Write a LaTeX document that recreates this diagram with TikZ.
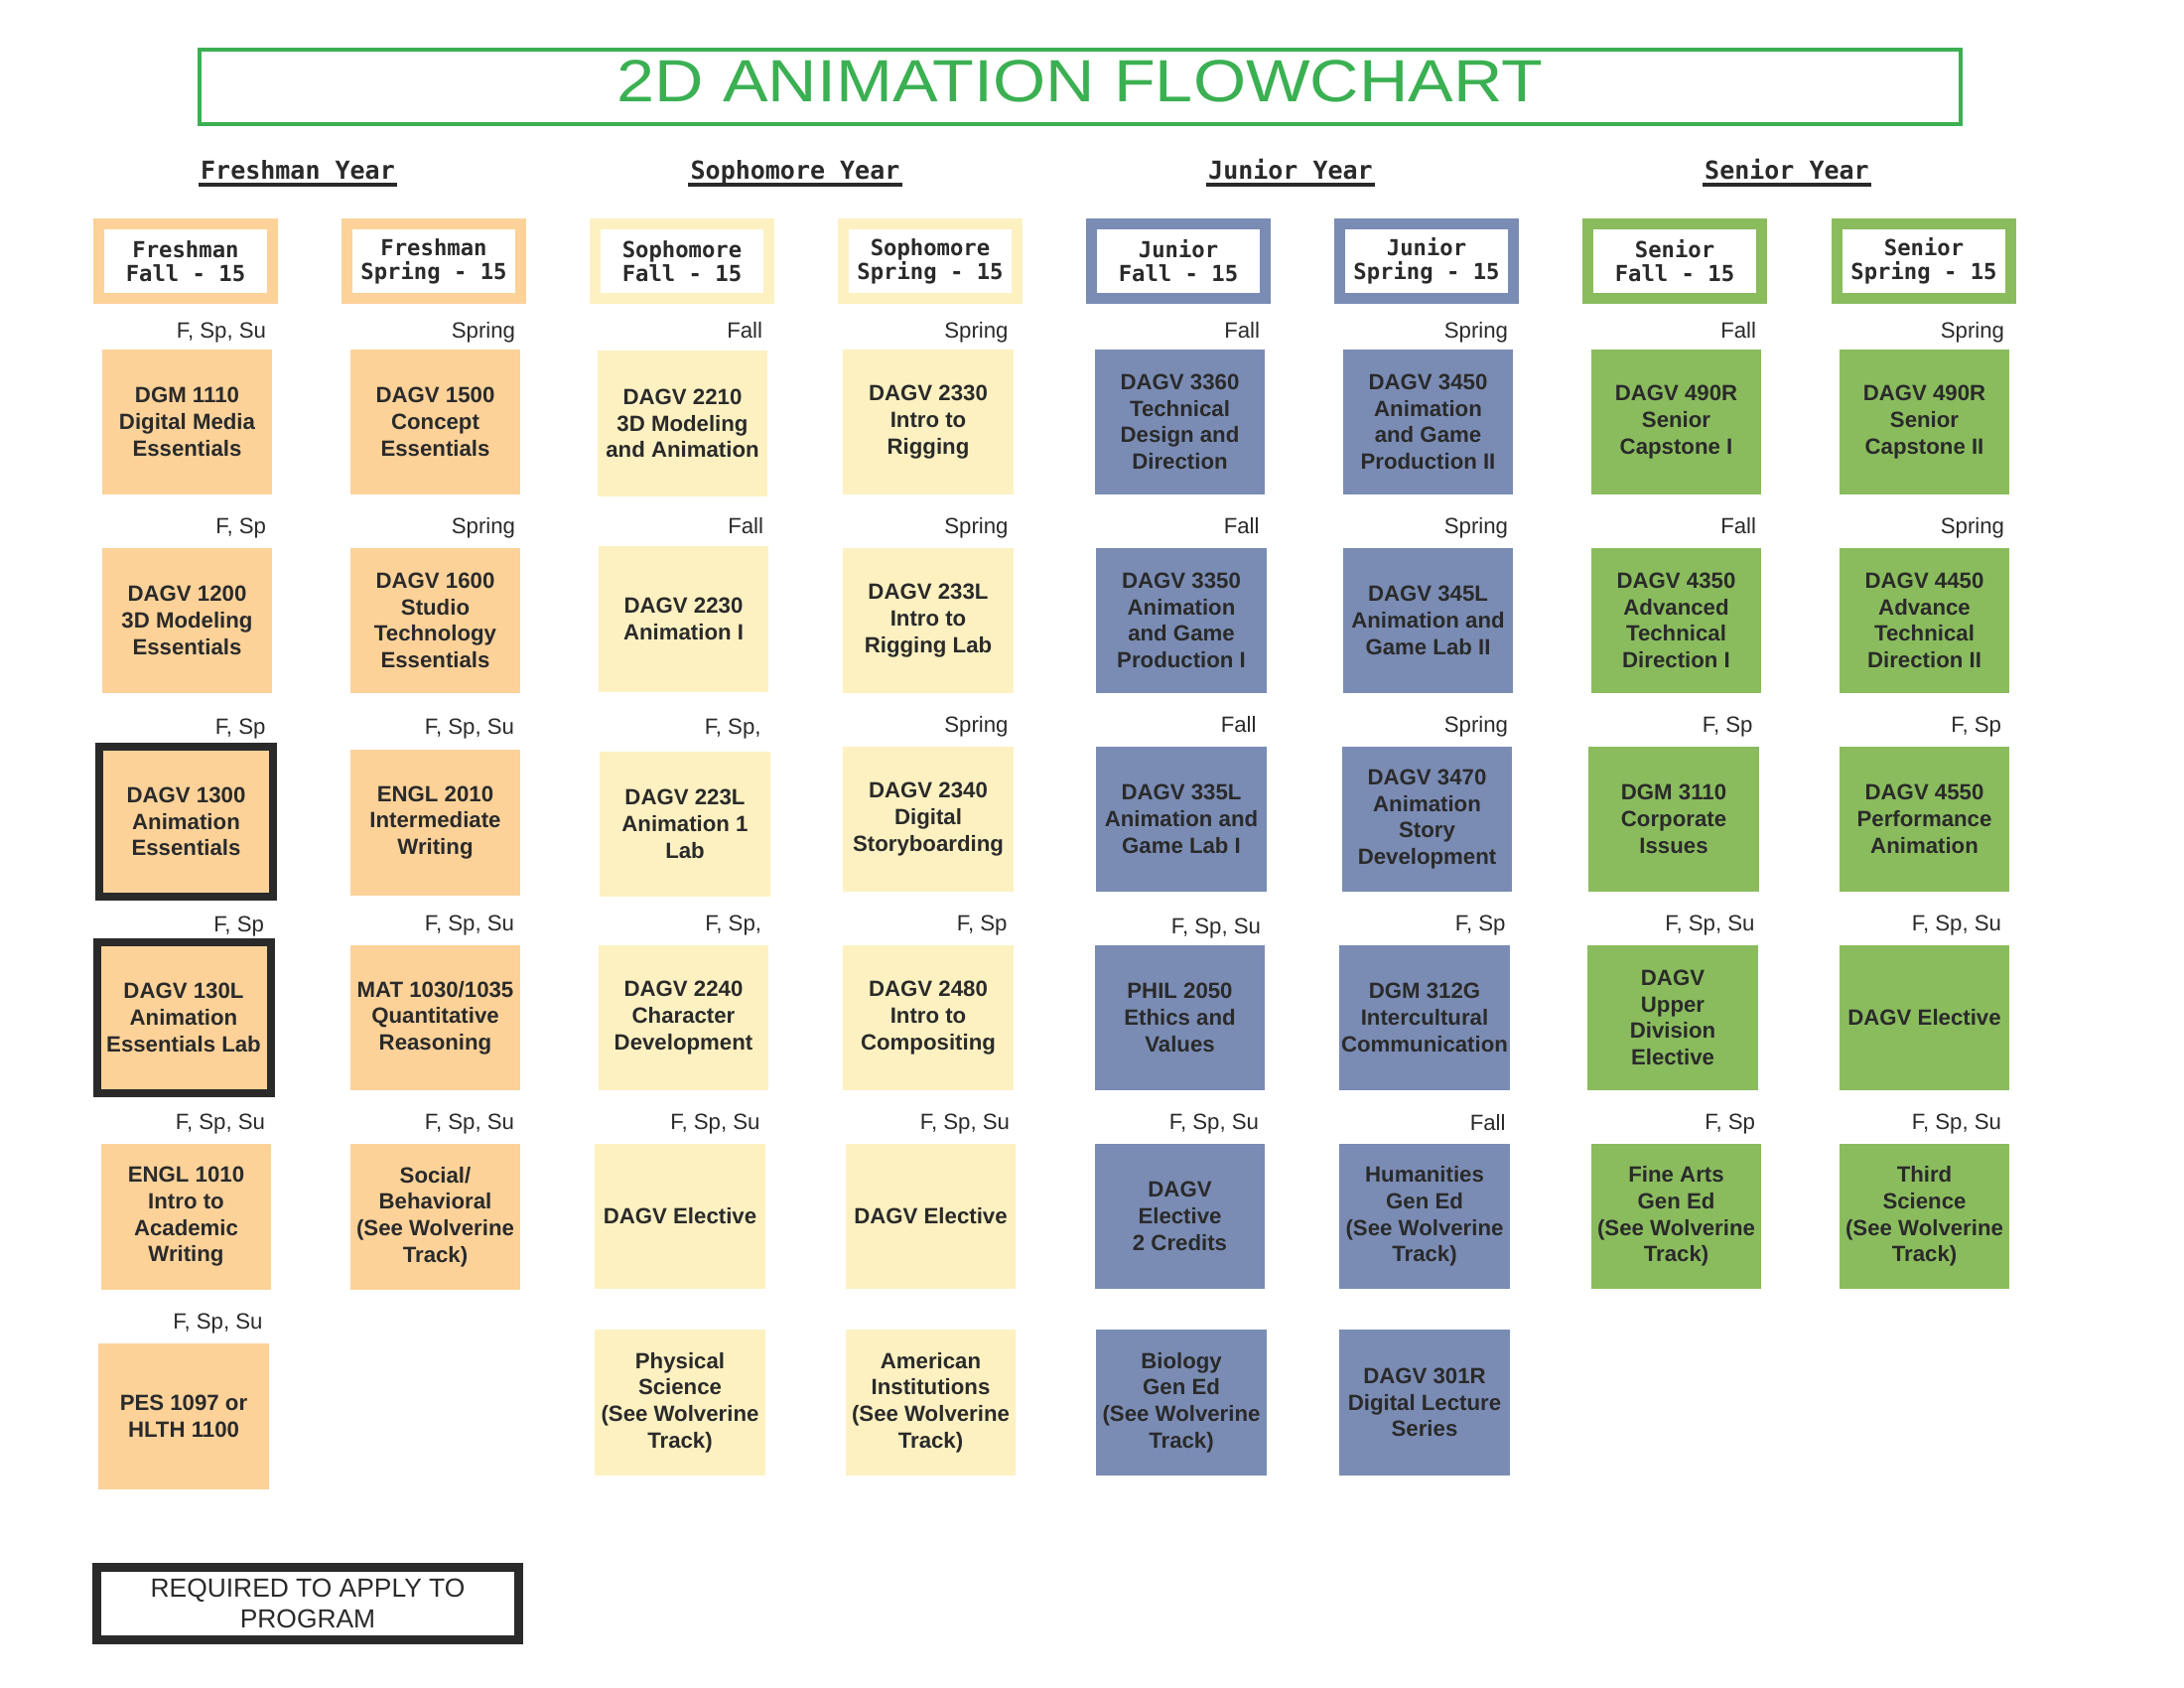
\documentclass[tikz,border=0pt]{standalone}
\usepackage{fontspec}
\setmainfont{Liberation Sans}
\newfontfamily\titlefont[FakeStretch=1.14]{Liberation Sans}
\newfontfamily\monofont{DejaVu Sans Mono}
\usepackage{xcolor}
\usepackage{tikz}
\usetikzlibrary{calc}

\definecolor{freshcol}{HTML}{FCD299}
\definecolor{sophcol}{HTML}{FDF1C1}
\definecolor{juncol}{HTML}{7A8CB4}
\definecolor{sencol}{HTML}{8ABC5E}
\definecolor{titlegreen}{HTML}{3BB052}
\definecolor{inkcol}{HTML}{2A2A2A}

\begin{document}
\begin{tikzpicture}[x=0.36pt,y=-0.36pt]

% Stili per i riquadri
\tikzset{
  corso/.style={inner sep=0pt, minimum width=61.6pt, minimum height=52.6pt, align=center,
    text=inkcol, font=\bfseries\fontsize{8}{9.6}\selectfont},
  fresh/.style={corso, fill=freshcol},
  soph/.style={corso, fill=sophcol},
  jun/.style={corso, fill=juncol},
  sen/.style={corso, fill=sencol},
  richiesto/.style={fresh, draw=inkcol, line width=2.88pt, minimum width=63pt, minimum height=54.4pt},
  sem/.style={anchor=base east, inner sep=0pt, text=inkcol, font=\fontsize{8}{9.6}\selectfont},
  semestre/.style={inner sep=0pt, fill=white, line width=3.96pt, minimum width=63pt, minimum height=27pt,
    align=center, text=inkcol, font=\monofont\bfseries\fontsize{8}{8.64}\selectfont},
  anno/.style={anchor=base, inner sep=0pt, text=inkcol, font=\monofont\bfseries\fontsize{9}{10}\selectfont},
  sottolinea/.style={inkcol, line width=1.44pt}
}

\useasboundingbox (0,0) rectangle (2200,1700);

% --- Titolo ---
\node[draw=titlegreen, line width=1.44pt, inner sep=0pt, minimum width=638.6pt, minimum height=27pt] (titolo) at (1088,87.5) {};
\node[inner sep=0pt, text=titlegreen, font=\titlefont\fontsize{21.6}{24}\selectfont] (titolotxt) at (1088,81.5) {2D ANIMATION FLOWCHART};

% --- Anni ---
\node[anno] (anno1) at (300,181) {Freshman Year};
\node[anno] (anno2) at (801,181) {Sophomore Year};
\node[anno] (anno3) at (1300,181) {Junior Year};
\node[anno] (anno4) at (1800,181) {Senior Year};
\draw[sottolinea] ([shift={(-2,5)}]anno1.base west) -- ([shift={(2,5)}]anno1.base east);
\draw[sottolinea] ([shift={(-2,5)}]anno2.base west) -- ([shift={(2,5)}]anno2.base east);
\draw[sottolinea] ([shift={(-2,5)}]anno3.base west) -- ([shift={(2,5)}]anno3.base east);
\draw[sottolinea] ([shift={(-2,5)}]anno4.base west) -- ([shift={(2,5)}]anno4.base east);

% --- Semestri ---
\node[semestre, draw=freshcol] (sem1) at (187,263) {Freshman\\Fall - 15};
\node[semestre, draw=freshcol] (sem2) at (437,263) {Freshman\\Spring - 15};
\node[semestre, draw=sophcol] (sem3) at (687,263) {Sophomore\\Fall - 15};
\node[semestre, draw=sophcol] (sem4) at (937,263) {Sophomore\\Spring - 15};
\node[semestre, draw=juncol] (sem5) at (1187,263) {Junior\\Fall - 15};
\node[semestre, draw=juncol] (sem6) at (1437,263) {Junior\\Spring - 15};
\node[semestre, draw=sencol] (sem7) at (1687,263) {Senior\\Fall - 15};
\node[semestre, draw=sencol] (sem8) at (1938,263) {Senior\\Spring - 15};

% --- Freshman Fall ---
\node[fresh] (dgm1110) at (188.5,425) {DGM 1110\\Digital Media\\Essentials};
\node[sem] (o-dgm1110) at ([shift={(-6,-11)}]dgm1110.north east) {F, Sp, Su};
\node[fresh] (dagv1200) at (188.5,625) {DAGV 1200\\3D Modeling\\Essentials};
\node[sem] (o-dagv1200) at ([shift={(-6,-14)}]dagv1200.north east) {F, Sp};
\node[richiesto] (dagv1300) at (187.5,827.5) {DAGV 1300\\Animation\\Essentials};
\node[sem] (o-dagv1300) at ([shift={(-11,-8)}]dagv1300.north east) {F, Sp};
\node[richiesto] (dagv130L) at (185,1025) {DAGV 130L\\Animation\\Essentials Lab};
\node[sem] (o-dagv130L) at ([shift={(-10,-7)}]dagv130L.north east) {F, Sp};
\node[fresh] (engl1010) at (187.5,1225.5) {ENGL 1010\\Intro to\\Academic\\Writing};
\node[sem] (o-engl1010) at ([shift={(-6,-14)}]engl1010.north east) {F, Sp, Su};
\node[fresh] (pes1097) at (185,1426.5) {PES 1097 or\\HLTH 1100};
\node[sem] (o-pes1097) at ([shift={(-6,-14)}]pes1097.north east) {F, Sp, Su};

% --- Freshman Spring ---
\node[fresh] (dagv1500) at (438.5,425) {DAGV 1500\\Concept\\Essentials};
\node[sem] (o-dagv1500) at ([shift={(-5,-11)}]dagv1500.north east) {Spring};
\node[fresh] (dagv1600) at (438.5,625) {DAGV 1600\\Studio\\Technology\\Essentials};
\node[sem] (o-dagv1600) at ([shift={(-5,-14)}]dagv1600.north east) {Spring};
\node[fresh] (engl2010) at (438.5,828.5) {ENGL 2010\\Intermediate\\Writing};
\node[sem] (o-engl2010) at ([shift={(-6,-15)}]engl2010.north east) {F, Sp, Su};
\node[fresh] (mat1030) at (438.5,1025) {MAT 1030/1035\\Quantitative\\Reasoning};
\node[sem] (o-mat1030) at ([shift={(-6,-14)}]mat1030.north east) {F, Sp, Su};
\node[fresh] (socbeh) at (438.5,1225.5) {Social/\\Behavioral\\(See Wolverine\\Track)};
\node[sem] (o-socbeh) at ([shift={(-6,-14)}]socbeh.north east) {F, Sp, Su};

% --- Sophomore Fall ---
\node[soph] (dagv2210) at (687.5,426.5) {DAGV 2210\\3D Modeling\\and Animation};
\node[sem] (o-dagv2210) at ([shift={(-5,-12)}]dagv2210.north east) {Fall};
\node[soph] (dagv2230) at (688.5,623.5) {DAGV 2230\\Animation I};
\node[sem] (o-dagv2230) at ([shift={(-5,-12)}]dagv2230.north east) {Fall};
\node[soph] (dagv223L) at (690,830) {DAGV 223L\\Animation 1\\Lab};
\node[sem] (o-dagv223L) at ([shift={(-9,-17)}]dagv223L.north east) {F, Sp,};
\node[soph] (dagv2240) at (688.5,1025) {DAGV 2240\\Character\\Development};
\node[sem] (o-dagv2240) at ([shift={(-7,-14)}]dagv2240.north east) {F, Sp,};
\node[soph] (elett3) at (685,1225) {DAGV Elective};
\node[sem] (o-elett3) at ([shift={(-5,-14)}]elett3.north east) {F, Sp, Su};
\node[soph] (physci) at (685,1412.5) {Physical\\Science\\(See Wolverine\\Track)};

% --- Sophomore Spring ---
\node[soph] (dagv2330) at (935,425) {DAGV 2330\\Intro to\\Rigging};
\node[sem] (o-dagv2330) at ([shift={(-5,-11)}]dagv2330.north east) {Spring};
\node[soph] (dagv233L) at (935,625) {DAGV 233L\\Intro to\\Rigging Lab};
\node[sem] (o-dagv233L) at ([shift={(-5,-14)}]dagv233L.north east) {Spring};
\node[soph] (dagv2340) at (935,825) {DAGV 2340\\Digital\\Storyboarding};
\node[sem] (o-dagv2340) at ([shift={(-5,-14)}]dagv2340.north east) {Spring};
\node[soph] (dagv2480) at (935,1025) {DAGV 2480\\Intro to\\Compositing};
\node[sem] (o-dagv2480) at ([shift={(-6,-14)}]dagv2480.north east) {F, Sp};
\node[soph] (elett4) at (937.5,1225) {DAGV Elective};
\node[sem] (o-elett4) at ([shift={(-6,-14)}]elett4.north east) {F, Sp, Su};
\node[soph] (amerinst) at (937.5,1412.5) {American\\Institutions\\(See Wolverine\\Track)};

% --- Junior Fall ---
\node[jun] (dagv3360) at (1188.5,425) {DAGV 3360\\Technical\\Design and\\Direction};
\node[sem] (o-dagv3360) at ([shift={(-5,-11)}]dagv3360.north east) {Fall};
\node[jun] (dagv3350) at (1190,625) {DAGV 3350\\Animation\\and Game\\Production I};
\node[sem] (o-dagv3350) at ([shift={(-7,-14)}]dagv3350.north east) {Fall};
\node[jun] (dagv335L) at (1190,825) {DAGV 335L\\Animation and\\Game Lab I};
\node[sem] (o-dagv335L) at ([shift={(-10,-14)}]dagv335L.north east) {Fall};
\node[jun] (phil2050) at (1188.5,1025) {PHIL 2050\\Ethics and\\Values};
\node[sem] (o-phil2050) at ([shift={(-4,-11)}]phil2050.north east) {F, Sp, Su};
\node[jun] (elett5) at (1188.5,1225) {DAGV\\Elective\\2 Credits};
\node[sem] (o-elett5) at ([shift={(-6,-14)}]elett5.north east) {F, Sp, Su};
\node[jun] (biology) at (1190,1412.5) {Biology\\Gen Ed\\(See Wolverine\\Track)};

% --- Junior Spring ---
\node[jun] (dagv3450) at (1438.5,425) {DAGV 3450\\Animation\\and Game\\Production II};
\node[sem] (o-dagv3450) at ([shift={(-5,-11)}]dagv3450.north east) {Spring};
\node[jun] (dagv345L) at (1438.5,625) {DAGV 345L\\Animation and\\Game Lab II};
\node[sem] (o-dagv345L) at ([shift={(-5,-14)}]dagv345L.north east) {Spring};
\node[jun] (dagv3470) at (1437.5,825) {DAGV 3470\\Animation\\Story\\Development};
\node[sem] (o-dagv3470) at ([shift={(-4,-14)}]dagv3470.north east) {Spring};
\node[jun] (dgm312G) at (1435,1025) {DGM 312G\\Intercultural\\Communication};
\node[sem] (o-dgm312G) at ([shift={(-4,-14)}]dgm312G.north east) {F, Sp};
\node[jun] (humanities) at (1435,1225) {Humanities\\Gen Ed\\(See Wolverine\\Track)};
\node[sem] (o-humanities) at ([shift={(-4,-13)}]humanities.north east) {Fall};
\node[jun] (dagv301R) at (1435,1412.5) {DAGV 301R\\Digital Lecture\\Series};

% --- Senior Fall ---
\node[sen] (dagv490Ra) at (1688.5,425) {DAGV 490R\\Senior\\Capstone I};
\node[sem] (o-dagv490Ra) at ([shift={(-5,-11)}]dagv490Ra.north east) {Fall};
\node[sen] (dagv4350) at (1688.5,625) {DAGV 4350\\Advanced\\Technical\\Direction I};
\node[sem] (o-dagv4350) at ([shift={(-5,-14)}]dagv4350.north east) {Fall};
\node[sen] (dgm3110) at (1686,825) {DGM 3110\\Corporate\\Issues};
\node[sem] (o-dgm3110) at ([shift={(-6,-14)}]dgm3110.north east) {F, Sp};
\node[sen] (updiv) at (1685,1025) {DAGV\\Upper\\Division\\Elective};
\node[sem] (o-updiv) at ([shift={(-3,-14)}]updiv.north east) {F, Sp, Su};
\node[sen] (finearts) at (1688.5,1225) {Fine Arts\\Gen Ed\\(See Wolverine\\Track)};
\node[sem] (o-finearts) at ([shift={(-6,-14)}]finearts.north east) {F, Sp};

% --- Senior Spring ---
\node[sen] (dagv490Rb) at (1938.5,425) {DAGV 490R\\Senior\\Capstone II};
\node[sem] (o-dagv490Rb) at ([shift={(-5,-11)}]dagv490Rb.north east) {Spring};
\node[sen] (dagv4450) at (1938.5,625) {DAGV 4450\\Advance\\Technical\\Direction II};
\node[sem] (o-dagv4450) at ([shift={(-5,-14)}]dagv4450.north east) {Spring};
\node[sen] (dagv4550) at (1938.5,825) {DAGV 4550\\Performance\\Animation};
\node[sem] (o-dagv4550) at ([shift={(-8,-14)}]dagv4550.north east) {F, Sp};
\node[sen] (elett8) at (1938.5,1025) {DAGV Elective};
\node[sem] (o-elett8) at ([shift={(-8,-14)}]elett8.north east) {F, Sp, Su};
\node[sen] (thirdsci) at (1938.5,1225) {Third\\Science\\(See Wolverine\\Track)};
\node[sem] (o-thirdsci) at ([shift={(-8,-14)}]thirdsci.north east) {F, Sp, Su};

% --- Legenda ---
\node[draw=inkcol, line width=3.24pt, inner sep=0pt, minimum width=153pt, minimum height=26.3pt, align=center,
  text=inkcol, font=\fontsize{9.5}{11.3}\selectfont] (legenda) at (310,1615) {REQUIRED TO APPLY TO\\PROGRAM};

\end{tikzpicture}
\end{document}
